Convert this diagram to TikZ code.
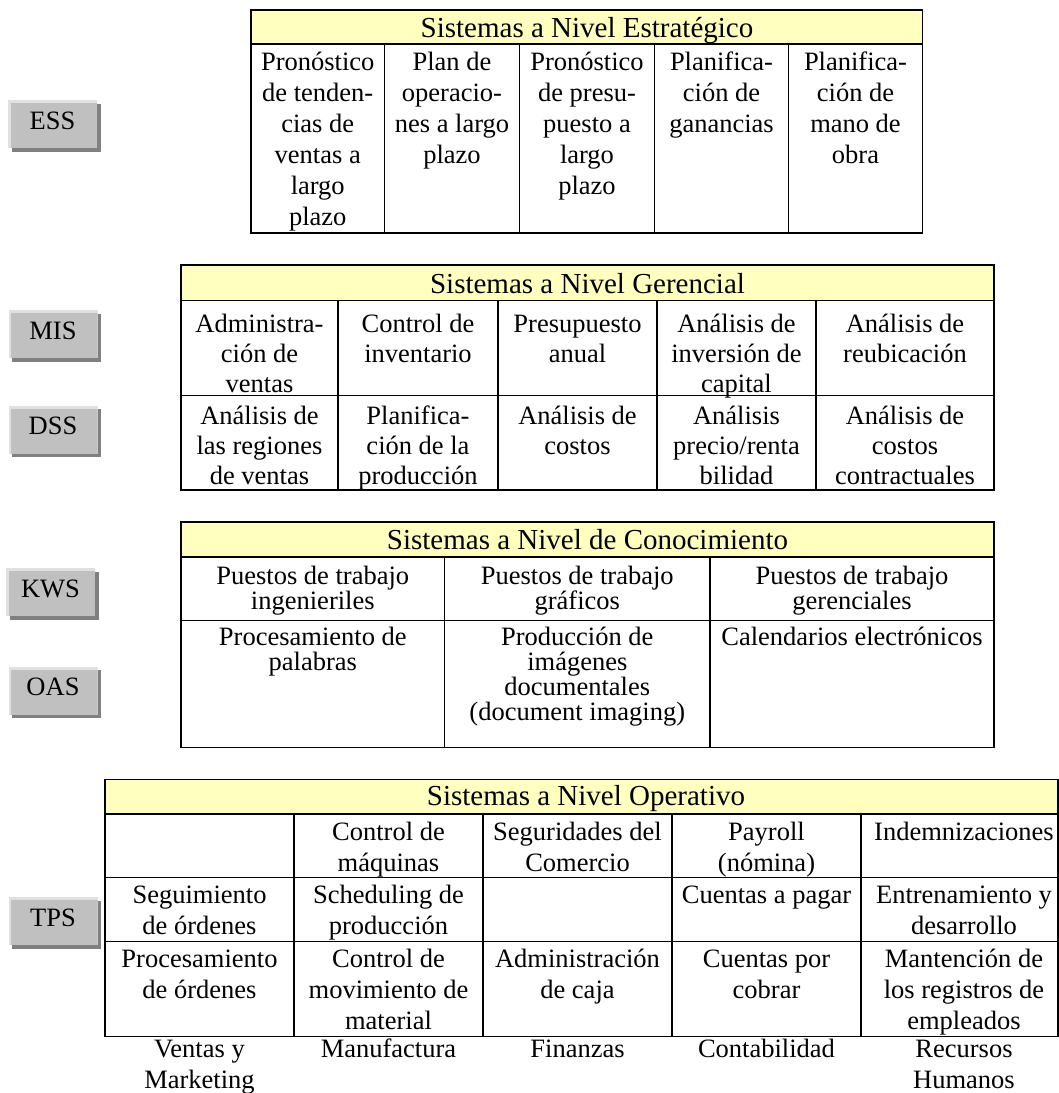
\documentclass[tikz,border=0pt]{standalone}
\usepackage{fontspec}
\setmainfont{Liberation Serif}
\usetikzlibrary{shadows}
\definecolor{hdrfill}{HTML}{FFFFC0}
\definecolor{btnface}{HTML}{C0C0C0}
\definecolor{btnlight}{HTML}{E0E0E0}
\definecolor{btnshadow}{HTML}{808080}
% centred, top-aligned cell text: the node baseline is the first line
\newcommand\celltxt[1]{\parbox[t]{300pt}{\centering #1}}
\begin{document}
\begin{tikzpicture}[x=1pt,y=-1pt,
  gridline/.style={line width=1.5pt},
  hdrtext/.style={anchor=base, inner sep=0pt, font=\fontsize{29}{33}\selectfont},
  cell/.style={anchor=base, inner sep=0pt, font=\fontsize{26.5}{31}\selectfont},
  midcell/.style={cell, font=\fontsize{26.5}{30}\selectfont},
  tightcell/.style={cell, font=\fontsize{26.5}{25}\selectfont},
  button/.style={minimum width=89pt, minimum height=48pt, inner sep=0pt,
    fill=btnlight,
    drop shadow={shadow xshift=3.5pt, shadow yshift=-3.5pt, fill=btnshadow, opacity=1},
    path picture={\fill[btnface] ([xshift=2.5pt,yshift=-3pt]path picture bounding box.north west)
      rectangle (path picture bounding box.south east);},
    font=\fontsize{26.5}{31}\selectfont, text height=17.5pt, text depth=7pt}
]
\useasboundingbox[fill=white] (0,0) rectangle (1059,1093);

% ---------- level buttons ----------
\node[button] (ess) at (52.5,124) {ESS};
\node[button] (mis) at (53,334) {MIS};
\node[button] (dss) at (53,429.5) {DSS};
\node[button] (kws) at (50.5,592) {KWS};
\node[button] (oas) at (53,690.5) {OAS};
\node[button] (tps) at (53,921) {TPS};

% ---------- strategic level ----------
\fill[hdrfill] (251,10) rectangle (922.5,44);
\draw[gridline] (251,10) rectangle (922.5,233);
\draw[gridline] (251,44) -- (922.5,44);
\foreach \x in {384.5,519.5,654.5,788.5} \draw[gridline] (\x,44) -- (\x,233);
\node[hdrtext] (t1h) at (587,37) {Sistemas a Nivel Estratégico};
\node[cell] (t1a) at (317.75,70) {\celltxt{Pronóstico\\de tenden-\\cias de\\ventas a\\largo\\plazo}};
\node[cell] (t1b) at (452,70) {\celltxt{Plan de\\operacio-\\nes a largo\\plazo}};
\node[cell] (t1c) at (587,70) {\celltxt{Pronóstico\\de presu-\\puesto a\\largo\\plazo}};
\node[cell] (t1d) at (721.5,70) {\celltxt{Planifica-\\ción de\\ganancias}};
\node[cell] (t1e) at (855.5,70) {\celltxt{Planifica-\\ción de\\mano de\\obra}};

% ---------- management level ----------
\fill[hdrfill] (181,265) rectangle (994,300.7);
\draw[gridline] (181,265) rectangle (994,490);
\draw[gridline] (181,300.7) -- (994,300.7);
\draw[gridline] (181,395.4) -- (994,395.4);
\foreach \x in {338,498,657,816} \draw[gridline] (\x,300.7) -- (\x,490);
\node[hdrtext] (t2h) at (587.5,293) {Sistemas a Nivel Gerencial};
\node[midcell] (t2a) at (259.5,332) {\celltxt{Administra-\\ción de\\ventas}};
\node[midcell] (t2b) at (418,332) {\celltxt{Control de\\inventario}};
\node[midcell] (t2c) at (577.5,332) {\celltxt{Presupuesto\\anual}};
\node[midcell] (t2d) at (736.5,332) {\celltxt{Análisis de\\inversión de\\capital}};
\node[midcell] (t2e) at (905,332) {\celltxt{Análisis de\\reubicación}};
\node[midcell] (t2f) at (259.5,424) {\celltxt{Análisis de\\las regiones\\de ventas}};
\node[midcell] (t2g) at (418,424) {\celltxt{Planifica-\\ción de la\\producción}};
\node[midcell] (t2i) at (577.5,424) {\celltxt{Análisis de\\costos}};
\node[midcell] (t2j) at (736.5,424) {\celltxt{Análisis\\precio/renta\\bilidad}};
\node[midcell] (t2k) at (905,424) {\celltxt{Análisis de\\costos\\contractuales}};

% ---------- knowledge level ----------
\fill[hdrfill] (181,522) rectangle (994,557);
\draw[gridline] (181,522) rectangle (994,747.5);
\draw[gridline] (181,557) -- (994,557);
\draw[gridline] (181,620.7) -- (994,620.7);
\foreach \x in {444.6,710} \draw[gridline] (\x,557) -- (\x,747.5);
\node[hdrtext] (t3h) at (587.5,549) {Sistemas a Nivel de Conocimiento};
\node[tightcell] (t3a) at (312.8,584) {\celltxt{Puestos de trabajo\\ingenieriles}};
\node[tightcell] (t3b) at (577.3,584) {\celltxt{Puestos de trabajo\\gráficos}};
\node[tightcell] (t3c) at (852,584) {\celltxt{Puestos de trabajo\\gerenciales}};
\node[tightcell] (t3d) at (312.8,645) {\celltxt{Procesamiento de\\palabras}};
\node[tightcell] (t3e) at (577.3,645) {\celltxt{Producción de\\imágenes\\documentales\\(document imaging)}};
\node[tightcell] (t3f) at (852,645) {\celltxt{Calendarios electrónicos}};

% ---------- operational level ----------
\fill[hdrfill] (105,779.3) rectangle (1058,814);
\draw[gridline] (105,779.3) rectangle (1058,1036.5);
\draw[gridline] (105,814) -- (1058,814);
\draw[gridline] (105,877.3) -- (1058,877.3);
\draw[gridline] (105,941.5) -- (1058,941.5);
\foreach \x in {294,483,672,861} \draw[gridline] (\x,814) -- (\x,1036.5);
\node[hdrtext] (t4h) at (586,805) {Sistemas a Nivel Operativo};
\node[cell] (t4b) at (388.5,840) {\celltxt{Control de\\máquinas}};
\node[cell] (t4c) at (577.5,840) {\celltxt{Seguridades del\\Comercio}};
\node[cell] (t4d) at (766.5,840) {\celltxt{Payroll\\(nómina)}};
\node[cell] (t4e) at (964,840) {\celltxt{Indemnizaciones}};
\node[cell] (t4f) at (199.5,903.3) {\celltxt{Seguimiento\\de órdenes}};
\node[cell] (t4g) at (388.5,903.3) {\celltxt{Scheduling de\\producción}};
\node[cell] (t4i) at (766.5,903.3) {\celltxt{Cuentas a pagar}};
\node[cell] (t4j) at (964,903.3) {\celltxt{Entrenamiento y\\desarrollo}};
\node[cell] (t4k) at (199.5,967.5) {\celltxt{Procesamiento\\de órdenes}};
\node[cell] (t4l) at (388.5,967.5) {\celltxt{Control de\\movimiento de\\material}};
\node[cell] (t4m) at (577.5,967.5) {\celltxt{Administración\\de caja}};
\node[cell] (t4n) at (766.5,967.5) {\celltxt{Cuentas por\\cobrar}};
\node[cell] (t4o) at (964,967.5) {\celltxt{Mantención de\\los registros de\\empleados}};

% ---------- functional areas ----------
\node[cell] (f1) at (199.5,1057) {\celltxt{Ventas y\\Marketing}};
\node[cell] (f2) at (388.5,1057) {\celltxt{Manufactura}};
\node[cell] (f3) at (577.5,1057) {\celltxt{Finanzas}};
\node[cell] (f4) at (766.5,1057) {\celltxt{Contabilidad}};
\node[cell] (f5) at (964,1057) {\celltxt{Recursos\\Humanos}};
\end{tikzpicture}
\end{document}
